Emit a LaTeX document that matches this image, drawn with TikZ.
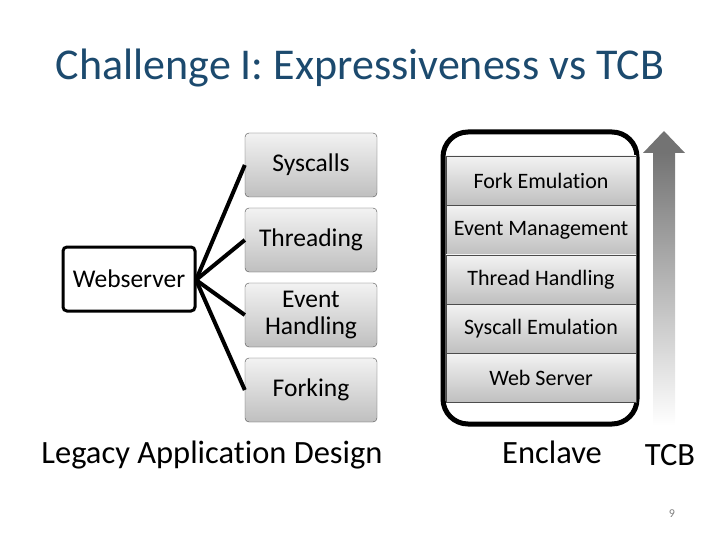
\documentclass[tikz,border=0pt]{standalone}
\usepackage{fontspec}
\setmainfont[Ligatures=NoCommon]{Carlito}
\usetikzlibrary{positioning}

\definecolor{titleblue}{RGB}{28,74,110}
\tikzset{
  block/.style={draw=black!70, rounded corners=4pt, top color=black!5, bottom color=black!25,
    minimum width=132pt, minimum height=64pt, align=center, font=\fontsize{25.5}{27}\selectfont, inner sep=2pt},
  layer/.style={draw=black!70, top color=black!5, bottom color=black!25,
    minimum width=190pt, minimum height=49pt, font=\fontsize{22}{24}\selectfont, inner sep=0pt},
  link/.style={line width=4pt}
}

\begin{document}
\begin{tikzpicture}[x=1pt,y=-1pt]
  \useasboundingbox (0,0) rectangle (720,540);

  % Title
  \node (title) at (360,68) {\fontsize{44}{46}\selectfont\color{titleblue}Challenge I: Expressiveness vs TCB};

  % Legacy design
  \node (web) [draw, line width=3pt, rounded corners=4pt, minimum width=132pt, minimum height=64pt,
    font=\fontsize{25.5}{27}\selectfont] at (129,279) {Webserver};
  \node (sys)   [block] at (311,165) {Syscalls};
  \node (thr)   [block] at (311,240) {Threading};
  \node (evt)   [block] at (311,315) {Event\\[0pt]Handling};
  \node (fork)  [block] at (311,390) {Forking};
  \coordinate (hub) at (196,280);
  \draw[link] (hub) -- (sys.west);
  \draw[link] (hub) -- (thr.west);
  \draw[link] (hub) -- (evt.west);
  \draw[link] (hub) -- (fork.west);
  \node (legacy) at (212,455) {\fontsize{32.5}{34}\selectfont Legacy Application Design};

  % Enclave stack
  \draw[line width=5pt, rounded corners=25pt] (443,132) rectangle (637,424);
  \node (fe) [layer] at (541,180.5) {Fork Emulation};
  \node (em) [layer, below=0pt of fe] {Event Management};
  \node (th) [layer, below=0pt of em] {Thread Handling};
  \node (se) [layer, below=0pt of th] {Syscall Emulation};
  \node (ws) [layer, below=0pt of se] {Web Server};
  \node (enclave) at (552,452) {\fontsize{32.5}{34}\selectfont Enclave};

  % TCB arrow
  \shade[top color=black!55, bottom color=white] (653,152) rectangle (675,425);
  \fill[black!55] (643,153) -- (664,131) -- (685,153) -- cycle;
  \node (tcb) at (670,455) {\fontsize{32.5}{34}\selectfont TCB};

  \node (page) at (672,514) {\fontsize{12}{13}\selectfont\color{black!50}9};
\end{tikzpicture}
\end{document}
